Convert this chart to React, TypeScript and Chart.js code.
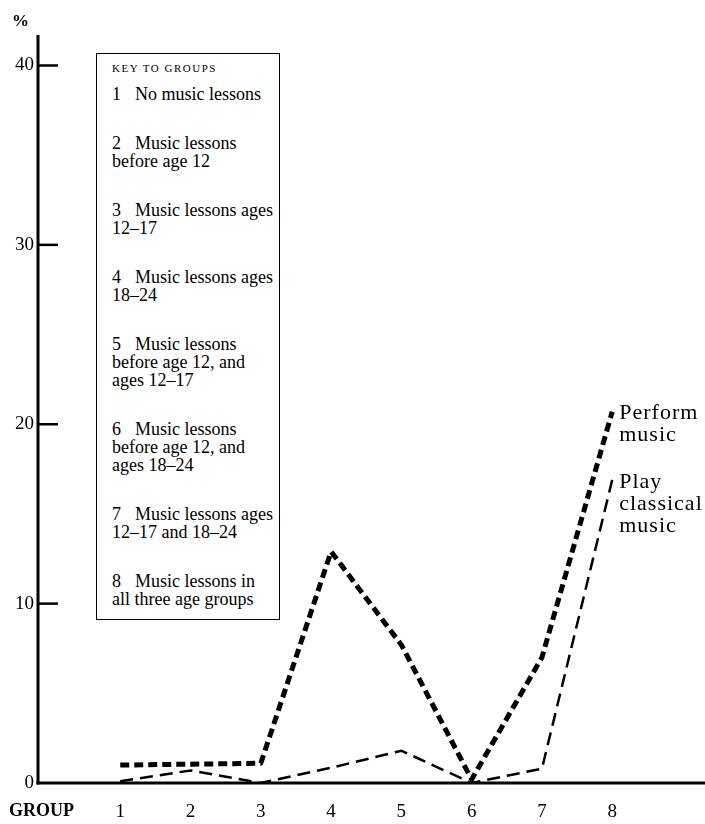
import React, { useEffect, useRef } from "react";
import { Chart, registerables } from "chart.js";

Chart.register(...registerables);

// ---- data ----
const groups = [1, 2, 3, 4, 5, 6, 7, 8];
const performMusic = [1.0, 1.05, 1.1, 12.9, 7.7, 0.2, 7.0, 20.7];
const playClassical = [0.1, 0.7, 0.0, 0.85, 1.8, 0.0, 0.8, 16.9];
const yTickValues = [0, 10, 20, 30, 40];
const seriesNames = ["Perform music", "Play classical music"];
const seriesLabelLines = [
  ["Perform", "music"],
  ["Play", "classical", "music"],
];
const xAxisTitle = "GROUP";
const yAxisTitle = "%";
const keyTitle = "KEY TO GROUPS";
const keyItems: string[][] = [
  ["No music lessons"],
  ["Music lessons", "before age 12"],
  ["Music lessons ages", "12–17"],
  ["Music lessons ages", "18–24"],
  ["Music lessons", "before age 12, and", "ages 12–17"],
  ["Music lessons", "before age 12, and", "ages 18–24"],
  ["Music lessons ages", "12–17 and 18–24"],
  ["Music lessons in", "all three age groups"],
];

const SERIF = '"Liberation Serif", "Times New Roman", serif';

export default function App() {
  const ref = useRef<HTMLCanvasElement | null>(null);

  useEffect(() => {
    if (!ref.current) return;

    const decor = {
      id: "decor",
      beforeDatasetsDraw(chart: any) {
        const { ctx, chartArea } = chart;
        const ys = chart.scales.y;
        ctx.save();
        ctx.strokeStyle = "#000";
        ctx.lineCap = "butt";
        // y axis
        ctx.lineWidth = 3;
        ctx.beginPath();
        ctx.moveTo(chartArea.left, chartArea.top);
        ctx.lineTo(chartArea.left, chartArea.bottom + 1.5);
        ctx.stroke();
        // x axis
        ctx.beginPath();
        ctx.moveTo(chartArea.left - 1.5, chartArea.bottom);
        ctx.lineTo(chartArea.right, chartArea.bottom);
        ctx.stroke();
        // inner ticks on y axis
        ctx.lineWidth = 2.5;
        yTickValues.forEach((v) => {
          if (v === 0) return;
          const py = ys.getPixelForValue(v);
          ctx.beginPath();
          ctx.moveTo(chartArea.left, py);
          ctx.lineTo(chartArea.left + 20, py);
          ctx.stroke();
        });
        ctx.restore();
      },
      afterDraw(chart: any) {
        const { ctx, chartArea } = chart;
        ctx.save();
        ctx.fillStyle = "#000";
        // axis titles
        ctx.font = `bold 18px ${SERIF}`;
        ctx.textBaseline = "middle";
        ctx.textAlign = "left";
        ctx.fillText(xAxisTitle, 9, chartArea.bottom + 28);
        ctx.font = `bold 17px ${SERIF}`;
        ctx.fillText(yAxisTitle, 12, chartArea.top - 13);
        // series end labels
        ctx.font = `22px ${SERIF}`;
        (ctx as any).letterSpacing = "1px";
        seriesLabelLines.forEach((lines, di) => {
          const meta = chart.getDatasetMeta(di);
          const pt = meta.data[meta.data.length - 1];
          lines.forEach((t, li) => {
            ctx.fillText(t, pt.x + 7, pt.y + 2 + li * 22);
          });
        });
        ctx.restore();
      },
    };

    const chart = new Chart(ref.current, {
      type: "line",
      data: {
        datasets: [
          {
            label: seriesNames[0],
            data: groups.map((g, i) => ({ x: g, y: performMusic[i] })),
            borderColor: "#000",
            borderWidth: 5,
            borderDash: [9, 5],
            borderJoinStyle: "round",
            pointRadius: 0,
            tension: 0,
            fill: false,
          },
          {
            label: seriesNames[1],
            data: groups.map((g, i) => ({ x: g, y: playClassical[i] })),
            borderColor: "#000",
            borderWidth: 2.5,
            borderDash: [13, 7],
            pointRadius: 0,
            tension: 0,
            fill: false,
          },
        ],
      },
      options: {
        animation: false,
        responsive: true,
        maintainAspectRatio: false,
        layout: { padding: { top: 35, right: 0, left: 0, bottom: 0 } },
        plugins: {
          legend: { display: false },
          tooltip: { enabled: false },
        },
        scales: {
          x: {
            type: "linear",
            min: -0.17,
            max: 9.32,
            grid: { display: false, drawTicks: false },
            border: { display: false },
            afterBuildTicks: (s: any) => {
              s.ticks = groups.map((v) => ({ value: v }));
            },
            afterFit: (s: any) => {
              s.height = 41;
            },
            ticks: {
              autoSkip: false,
              maxRotation: 0,
              color: "#000",
              font: { family: SERIF, size: 19 },
              padding: 18,
              callback: (v: any) => String(v),
            },
          },
          y: {
            type: "linear",
            min: 0,
            max: 41.7,
            grid: { display: false, drawTicks: false },
            border: { display: false },
            afterBuildTicks: (s: any) => {
              s.ticks = yTickValues.map((v) => ({ value: v }));
            },
            afterFit: (s: any) => {
              s.width = 38;
            },
            ticks: {
              color: "#000",
              font: { family: SERIF, size: 19 },
              padding: 4,
              callback: (v: any) => String(v),
            },
          },
        },
      },
      plugins: [decor],
    } as any);

    return () => chart.destroy();
  }, []);

  return (
    <div
      style={{
        position: "absolute",
        left: 0,
        top: 0,
        width: 705,
        height: 824,
        background: "#fff",
        overflow: "hidden",
      }}
    >
      <canvas ref={ref} />
      <div
        style={{
          position: "absolute",
          left: 96,
          top: 53,
          width: 184,
          height: 567,
          boxSizing: "border-box",
          border: "1.5px solid #000",
          background: "#fff",
          paddingLeft: 15,
          paddingTop: 5,
          fontFamily: SERIF,
          color: "#000",
          whiteSpace: "nowrap",
        }}
      >
        <div style={{ fontSize: 11, lineHeight: "18px", letterSpacing: 1.5 }}>{keyTitle}</div>
        {keyItems.map((lines, i) => (
          <div key={i} style={{ marginTop: i === 0 ? 8 : 31, fontSize: 18, lineHeight: "18px" }}>
            {lines.map((t, j) => (
              <div key={j}>
                {j === 0 ? (
                  <span style={{ display: "inline-block", width: 23 }}>{groups[i]}</span>
                ) : null}
                {t}
              </div>
            ))}
          </div>
        ))}
      </div>
    </div>
  );
}
